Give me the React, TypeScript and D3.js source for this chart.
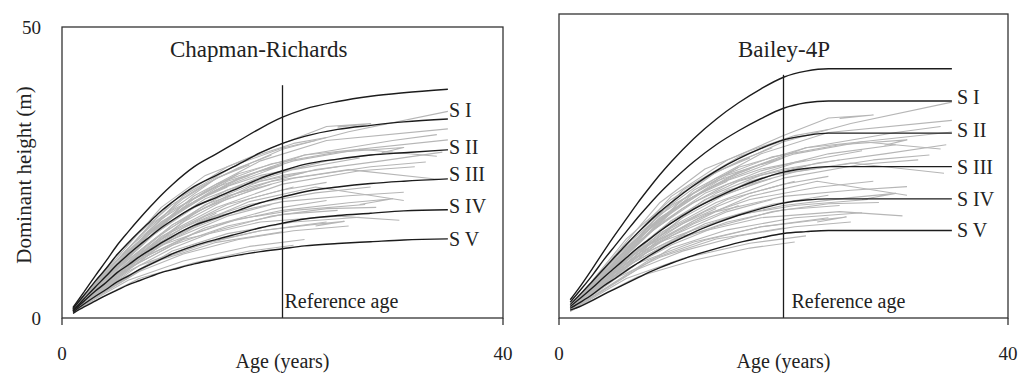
import React from "react";
import * as d3 from "d3";

// ---------- data ----------
const X_TICKS = [0, 40];
const Y_TICKS = [0, 50];
const REFERENCE_AGE = 20;
const SITE_LABELS = ["S I", "S II", "S III", "S IV", "S V"];

// Chapman-Richards site curves (top unlabeled curve, then S I .. S V)
const CR_AGES = [1, 2, 3, 4, 5, 6, 7, 8, 9, 10, 12, 14, 16, 18, 20, 22, 25, 28, 31, 35];
const CR_TOP = [1.8, 4.5, 7.2, 9.8, 12.5, 14.8, 17.0, 19.1, 21.1, 22.9, 26.0, 28.2, 30.4, 32.6, 34.5, 35.9, 37.2, 38.1, 38.7, 39.3];
const CR_S1 = [1.6, 3.9, 6.3, 8.5, 10.9, 12.9, 14.8, 16.6, 18.4, 19.9, 22.6, 24.5, 26.4, 28.4, 30.0, 31.2, 32.4, 33.1, 33.7, 34.2];
const CR_S2 = [1.3, 3.3, 5.3, 7.2, 9.2, 10.9, 12.5, 14.0, 15.5, 16.8, 19.1, 20.7, 22.3, 24.0, 25.3, 26.4, 27.3, 28.0, 28.4, 28.9];
const CR_S3 = [1.2, 2.9, 4.6, 6.1, 7.8, 9.1, 10.5, 11.7, 12.9, 14.0, 15.9, 17.2, 18.5, 19.8, 20.8, 21.7, 22.5, 23.1, 23.5, 23.9];
const CR_S4 = [1.0, 2.4, 3.7, 4.9, 6.2, 7.2, 8.3, 9.2, 10.1, 11.0, 12.4, 13.5, 14.5, 15.5, 16.3, 17.0, 17.6, 18.0, 18.4, 18.6];
const CR_S5 = [0.8, 1.9, 2.9, 3.9, 4.8, 5.7, 6.4, 7.1, 7.8, 8.3, 9.3, 10.1, 10.8, 11.4, 11.9, 12.4, 12.8, 13.1, 13.4, 13.6];

// Bailey-4P site curves
const B_AGES = [1, 2, 3, 4, 5, 6, 7, 8, 9, 10, 12, 14, 16, 18, 20, 22, 24, 27, 31, 35];
const B_TOP = [3.0, 5.5, 8.2, 11.0, 13.7, 16.3, 18.9, 21.3, 23.6, 25.7, 29.5, 32.7, 35.4, 37.7, 39.6, 40.6, 41.0, 41.0, 41.0, 41.0];
const B_S1 = [2.6, 4.8, 7.1, 9.6, 11.9, 14.2, 16.5, 18.6, 20.6, 22.4, 25.7, 28.5, 30.8, 32.8, 34.5, 35.4, 35.7, 35.7, 35.7, 35.7];
const B_S2 = [2.2, 4.1, 6.1, 8.1, 10.1, 12.1, 14.0, 15.8, 17.5, 19.0, 21.8, 24.2, 26.2, 27.9, 29.3, 30.0, 30.4, 30.4, 30.4, 30.4];
const B_S3 = [1.9, 3.4, 5.0, 6.7, 8.3, 9.9, 11.5, 12.9, 14.3, 15.6, 17.9, 19.8, 21.5, 22.9, 24.0, 24.6, 24.9, 24.9, 24.9, 24.9];
const B_S4 = [1.6, 2.7, 3.9, 5.3, 6.5, 7.8, 9.0, 10.2, 11.3, 12.3, 14.1, 15.6, 16.9, 18.0, 18.9, 19.4, 19.6, 19.6, 19.6, 19.6];
const B_S5 = [1.3, 2.0, 2.9, 3.9, 4.8, 5.7, 6.6, 7.5, 8.3, 9.0, 10.3, 11.4, 12.4, 13.2, 13.9, 14.2, 14.4, 14.4, 14.4, 14.4];

// Observed plot height series [age, height]
const OBSERVED: [number, number][][] = [
  [[1, 1.8], [8, 16], [14, 24], [20, 29], [26, 32], [35, 35.5]],
  [[1, 1.6], [7, 13], [12, 21], [18, 27], [24, 30.5], [35, 32.5]],
  [[1, 1.5], [6, 10.5], [11, 19], [16, 24], [22, 28], [35, 30.6]],
  [[1, 1.5], [9, 16.5], [15, 23.5], [21, 27], [27, 29], [34, 27.8]],
  [[1, 1.4], [8, 13], [13, 19.5], [19, 23.5], [26, 25.5], [34.3, 23.8]],
  [[1, 1.3], [7, 10.5], [12, 16], [17, 20], [23, 22.5], [31, 20.2]],
  [[1, 1.2], [6, 8.5], [11, 13.5], [18, 16.5], [25, 17.5], [30.6, 16.8]],
  [[1, 1.7], [10, 20], [15, 26], [20, 30], [24, 32.9], [28, 33.4], [25, 32.8]],
  [[1, 1.5], [9, 17], [14, 23], [19, 26.5], [25, 28.5], [31, 29.3], [29, 28.4]],
  [[1, 1.3], [8, 12], [14, 17.5], [20, 20], [26, 21], [31, 21.6]],
  [[1, 1.2], [7, 9], [12, 12.5], [18, 15], [22.5, 16], [25.6, 16.6], [23, 15.8]],
  [[1, 1.6], [6, 12], [10, 18.5], [14, 22.5], [17, 24.5]],
  [[1, 1.4], [5, 8.5], [9, 14.5], [13, 19], [18, 22.5]],
  [[1, 1.3], [6, 9], [10, 13.5], [15, 17.5], [19, 19.5]],
  [[1, 1.2], [5, 6.5], [9, 10], [14, 13], [20, 14.8]],
  [[1, 1.1], [6, 6.5], [11, 9.8], [17, 12.3], [22, 13.5]],
  [[1, 1.5], [7, 12.5], [11, 18], [15, 22], [21, 25.5], [27, 27.5]],
  [[1, 1.4], [8, 14], [12, 19], [16, 22.5], [20, 24.5], [25, 26]],
  [[1, 1.3], [9, 13], [13, 17], [17, 19.5], [23, 21.5], [28, 22.5]],
  [[1, 1.5], [10, 17.5], [14, 22], [18, 24.5], [22, 26]],
  [[1, 1.6], [5, 10], [9, 16.5], [12, 20], [15, 22.5]],
  [[1, 1.4], [4, 6], [8, 12], [11, 15.5], [14, 18]],
  [[1, 1.3], [7, 10], [12, 14.5], [16, 17], [21, 18.5], [27.5, 19.5]],
  [[1, 1.2], [8, 9.5], [13, 12.8], [18, 15], [24, 16.5]],
  [[1, 1.1], [7, 6.8], [12, 9.5], [17, 11.5], [21, 12.5]],
  [[1, 1.7], [9, 19], [13, 24.5], [17, 27.5], [21, 30], [24, 31]],
  [[1, 1.5], [11, 19.5], [16, 24.8], [22, 28], [30, 30.5], [34, 31.5]],
  [[1, 1.4], [10, 16], [15, 21], [21, 24], [28, 26], [33, 26.8]],
  [[1, 1.3], [9, 12.5], [15, 16.5], [20, 18.5], [26, 19.8], [30, 20.5], [27, 19.5]],
  [[1, 1.6], [6, 11.5], [9, 16], [13, 21], [16, 23.5], [20, 26.3], [18, 25.2]],
  [[1, 1.4], [6, 9.5], [10, 14.8], [15, 19.5], [20, 22], [24, 23.3]],
  [[1, 1.3], [6, 8], [10, 12], [14, 15], [19, 17.5], [24, 18.8], [28.5, 19]],
  [[1, 1.2], [7, 8], [11, 11], [16, 13.5], [21, 15], [26, 15.8]],
  [[1, 1.5], [8, 14.5], [12, 20.5], [15, 23.8], [16, 24.8]],
  [[1, 1.7], [7, 14], [11, 20.5], [14, 24], [17, 26.3]],
  [[1, 1.4], [12, 18], [17, 22.5], [23, 25.5], [29, 27], [34.5, 28.5]],
  [[1, 1.5], [6, 10], [10, 16], [14, 20.5], [18, 23.5], [22, 25]],
  [[1, 1.4], [7, 11], [11, 16.5], [15, 20.5], [19, 23]],
  [[1, 1.3], [6, 9.5], [9, 13.5], [13, 17.5], [17, 20.5], [21, 22.5]],
  [[1, 1.6], [8, 15], [12, 20], [16, 23.8], [19, 26]],
  [[1, 1.5], [9, 15.5], [13, 20.5], [18, 24.2], [24, 27], [30, 28.5]],
  [[1, 1.2], [5, 7.5], [10, 12.5], [15, 15.8], [20, 17.8], [25, 18.5]],
  [[1, 1.3], [8, 11], [13, 15.5], [19, 18.7], [24, 20.2]],
  [[1, 1.7], [6, 13], [10, 19.5], [13, 23], [16, 25.8], [19, 28]],
  [[1, 1.4], [9, 14], [14, 19], [20, 23], [27, 25.3], [32, 26]],
  [[1, 1.2], [10, 11.5], [15, 14.5], [21, 16.5], [27, 17.3]],
  [[1, 1.6], [11, 21], [16, 26.5], [20, 29.2], [23, 30.5]],
  [[1, 1.3], [5, 7.5], [8, 11.5], [12, 15.5], [16, 18.5]],
];

// ---------- layout / style ----------
const FONT = "'Liberation Serif', 'Times New Roman', serif";
const GRAY = "#b6b6b6";
const INK = "#1c1c1c";

type PanelCfg = {
  title: string;
  titleX: number;
  ages: number[];
  curves: number[][];
  x0: number;
  x1: number;
  yT: number;
  yB: number;
  refTextDx: number;
  labelDx: number;
  labelNudge: number[];
  showY: boolean;
};

const PANELS: PanelCfg[] = [
  {
    title: "Chapman-Richards",
    titleX: 170,
    ages: CR_AGES,
    curves: [CR_TOP, CR_S1, CR_S2, CR_S3, CR_S4, CR_S5],
    x0: 62,
    x1: 503,
    yT: 27,
    yB: 318,
    refTextDx: 2,
    labelDx: 1,
    labelNudge: [-9, -3, -5, -4, 0],
    showY: true,
  },
  {
    title: "Bailey-4P",
    titleX: 738,
    ages: B_AGES,
    curves: [B_TOP, B_S1, B_S2, B_S3, B_S4, B_S5],
    x0: 559,
    x1: 1008,
    yT: 14,
    yB: 318,
    refTextDx: 8,
    labelDx: 5,
    labelNudge: [-4, -3, 0, 0, 0],
    showY: false,
  },
];

function Panel({ cfg }: { cfg: PanelCfg }) {
  const x = d3.scaleLinear().domain([0, 40]).range([cfg.x0, cfg.x1]);
  const y = d3.scaleLinear().domain([0, 50]).range([cfg.yB, cfg.yT]);
  const straight = d3
    .line<[number, number]>()
    .x((d) => x(d[0]))
    .y((d) => y(d[1]));
  const smooth = d3
    .line<[number, number]>()
    .curve(d3.curveMonotoneX)
    .x((d) => x(d[0]))
    .y((d) => y(d[1]));
  const lastAge = cfg.ages[cfg.ages.length - 1];
  const cx = (cfg.x0 + cfg.x1) / 2;

  return (
    <g>
      {OBSERVED.map((s, i) => (
        <path key={"o" + i} d={straight(s) || ""} fill="none" stroke={GRAY} strokeWidth={1.1} strokeLinejoin="round" />
      ))}
      {cfg.curves.map((c, i) => {
        const pts = cfg.ages.map((a, j) => [a, c[j]] as [number, number]);
        return <path key={"c" + i} d={smooth(pts) || ""} fill="none" stroke={INK} strokeWidth={1.4} />;
      })}
      {SITE_LABELS.map((lab, i) => {
        const c = cfg.curves[i + 1];
        return (
          <text
            key={"l" + i}
            x={x(lastAge) + cfg.labelDx}
            y={y(c[c.length - 1]) + cfg.labelNudge[i]}
            dominantBaseline="central"
            fontFamily={FONT}
            fontSize={20}
            fill="#222"
          >
            {lab}
          </text>
        );
      })}
      <line x1={x(REFERENCE_AGE)} x2={x(REFERENCE_AGE)} y1={y(40)} y2={y(0)} stroke={INK} strokeWidth={1.3} />
      <text x={x(REFERENCE_AGE) + cfg.refTextDx} y={308} fontFamily={FONT} fontSize={20} fill="#222">
        Reference age
      </text>
      <rect x={cfg.x0} y={cfg.yT} width={cfg.x1 - cfg.x0} height={cfg.yB - cfg.yT} fill="none" stroke="#333" strokeWidth={1.3} />
      {X_TICKS.map((t) => (
        <g key={"xt" + t}>
          <line x1={x(t)} x2={x(t)} y1={cfg.yB} y2={cfg.yB + 7} stroke="#333" strokeWidth={1.3} />
          <text x={x(t)} y={360} textAnchor="middle" fontFamily={FONT} fontSize={19} fill="#222">
            {t}
          </text>
        </g>
      ))}
      {cfg.showY &&
        Y_TICKS.map((t) => (
          <text key={"yt" + t} x={41} y={y(t) + 7} textAnchor="end" fontFamily={FONT} fontSize={19} fill="#222">
            {t}
          </text>
        ))}
      <text x={cfg.titleX} y={57} fontFamily={FONT} fontSize={23} fill="#222">
        {cfg.title}
      </text>
      <text x={cx} y={368} textAnchor="middle" fontFamily={FONT} fontSize={20} fill="#222">
        Age (years)
      </text>
      {cfg.showY && (
        <text
          transform={`translate(31, 175) rotate(-90)`}
          textAnchor="middle"
          fontFamily={FONT}
          fontSize={21}
          fill="#222"
        >
          Dominant height (m)
        </text>
      )}
    </g>
  );
}

export default function App() {
  return (
    <svg
      width={1019}
      height={374}
      viewBox="0 0 1019 374"
      style={{ position: "absolute", left: 0, top: 0, background: "#fff" }}
    >
      <rect x={0} y={0} width={1019} height={374} fill="#fff" />
      {PANELS.map((p) => (
        <Panel key={p.title} cfg={p} />
      ))}
    </svg>
  );
}
